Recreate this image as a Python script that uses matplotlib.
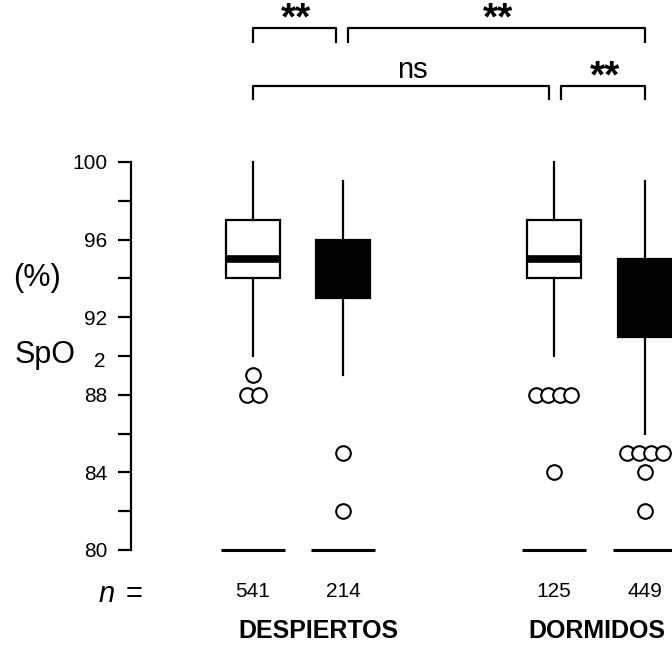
import numpy as np
import matplotlib.pyplot as plt

plt.rcParams['font.family'] = ['Liberation Sans', 'DejaVu Sans']

# Datos (SpO2 %)
grupos = ['DESPIERTOS', 'DORMIDOS']
n_vals = [541, 214, 125, 449]
mediana = [95, 94, 95, 93]
q1 = [94, 93, 94, 91]
q3 = [97, 96, 97, 95]
bigote_inf = [90, 89, 90, 86]
bigote_sup = [100, 99, 100, 99]
atipicos = [[89, 88, 88], [85, 82], [88, 88, 88, 88, 84], [85, 85, 85, 85, 84, 82]]
base_vals = [80, 80, 80, 80]
colores = ['white', 'black', 'white', 'black']

# comparaciones: (caja_i, caja_j, texto, nivel)
comparaciones = [(0, 1, '**', 1), (1, 3, '**', 1), (0, 2, 'ns', 0), (2, 3, '**', 0)]

# posiciones de las cajas (layout)
pos = [1.0, 2.0, 4.344, 5.356]
pos_grupos = [1.728, 4.817]

fig = plt.figure(figsize=(6.72, 6.45), dpi=100)
ax = fig.add_axes([0, 0, 1, 1])
ax.set_xlim(-1.811, 5.656)
ax.set_ylim(75.10, 108.35)

stats = []
for i in range(4):
    stats.append(dict(med=mediana[i], q1=q1[i], q3=q3[i],
                      whislo=bigote_inf[i], whishi=bigote_sup[i], fliers=[]))

bp = ax.bxp(stats, positions=pos, widths=0.6, showcaps=False, showfliers=False,
            patch_artist=True,
            boxprops=dict(linewidth=1.6, edgecolor='black'),
            whiskerprops=dict(linewidth=1.6, color='black'),
            medianprops=dict(linewidth=5.5, color='black', solid_capstyle='butt'))
for caja, c in zip(bp['boxes'], colores):
    caja.set_facecolor(c)
    caja.set_clip_on(False)
for m in bp['medians']:
    m.set_clip_on(False)

# atipicos, con desplazamiento horizontal cuando se repiten
paso = 0.13
for i in range(4):
    vals = np.array(atipicos[i])
    for v in np.unique(vals):
        k = np.sum(vals == v)
        xs = pos[i] + (np.arange(k) - (k - 1) / 2) * paso
        ax.plot(xs, [v] * k, 'o', mfc='white', mec='black', ms=10.5, mew=1.5,
                clip_on=False, zorder=3)

# lineas en la base
for i in range(4):
    ax.plot([pos[i] - 0.355, pos[i] + 0.355], [base_vals[i]] * 2, color='black',
            lw=2.2, solid_capstyle='butt', clip_on=False)

# corchetes de significancia
niveles = {1: 106.89, 0: 103.93}
for a, b, txt, nv in comparaciones:
    y = niveles[nv]
    x0 = pos[a]
    x1 = pos[b]
    if nv == 1 and a == 1:
        x0 = pos[a] + 0.06
    if nv == 1 and b == 1:
        x1 = pos[b] - 0.08
    if nv == 0 and a == 2:
        x0 = pos[a] + 0.08
    if nv == 0 and b == 2:
        x1 = pos[b] - 0.05
    ax.plot([x0, x0, x1, x1], [y - 0.69, y, y, y - 0.69], color='black', lw=1.6,
            clip_on=False)
    if txt == 'ns':
        ax.text((x0 + x1) / 2 + 0.12, y + 0.8, txt, ha='center', va='center', fontsize=21)
    else:
        ax.text((x0 + x1) / 2 + 0.02, y + 0.45, txt, ha='center', va='center',
                fontsize=28, fontweight='bold')

# eje y
for s in ['top', 'right', 'bottom']:
    ax.spines[s].set_visible(False)
ax.spines['left'].set_position(('data', -0.359))
ax.spines['left'].set_bounds(80, 100)
ax.spines['left'].set_linewidth(1.6)
ax.set_xticks([])
ticks = list(range(80, 101, 2))
etiquetas = [str(t) if t % 4 == 0 else '' for t in ticks]
ax.set_yticks(ticks)
ax.set_yticklabels(etiquetas)
ax.tick_params(axis='y', direction='out', length=9.4, width=1.6, labelsize=15, pad=7.5)

ax.text(-1.311, 90.05, 'SpO', ha='center', va='center', fontsize=22)
ax.text(-0.635, 89.72, '2', ha='right', va='center', fontsize=15)
ax.text(-1.40, 94.02, '(%)', ha='center', va='center', fontsize=22)

# n por grupo
ax.text(-0.628, 77.75, 'n', ha='center', va='center', fontsize=21, style='italic')
ax.text(-0.322, 77.75, '=', ha='center', va='center', fontsize=21)
for p, n in zip(pos, n_vals):
    ax.text(p, 77.86, str(n), ha='center', va='center', fontsize=15)
for p, g in zip(pos_grupos, grupos):
    ax.text(p, 75.82, g, ha='center', va='center', fontsize=18, fontweight='bold')

fig.savefig('out.png', dpi=100)
